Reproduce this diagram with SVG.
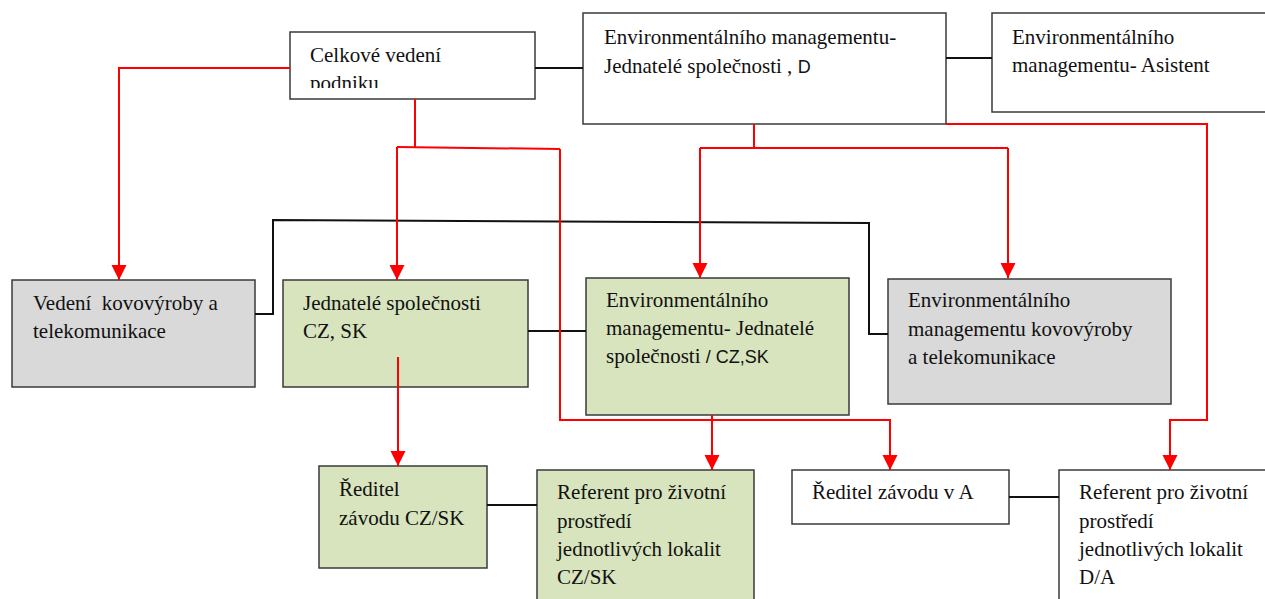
<svg xmlns="http://www.w3.org/2000/svg" width="1265" height="599" viewBox="0 0 1265 599">
<style>
.box{stroke:#3a3a3a;stroke-width:1.5}
.w{fill:#ffffff}
.g{fill:#d7e4bd}
.s{fill:#d9d9d9}
.t{font-family:"Liberation Serif","Times New Roman",serif;font-size:21px;fill:#111}
.sans{font-family:"Liberation Sans",Arial,sans-serif;font-size:18px}
.red{fill:none;stroke:#ff0000;stroke-width:2}
.blk{fill:none;stroke:#111;stroke-width:2}
</style>
<defs>
<marker id="ah" markerUnits="userSpaceOnUse" markerWidth="16" markerHeight="16" viewBox="0 0 16 16" refX="15" refY="8" orient="auto">
<path d="M0,0.5 L15,8 L0,15.5 z" fill="#ff0000"/>
</marker>
<clipPath id="clipA"><rect x="290" y="32" width="245" height="56"/></clipPath>
</defs>

<g id="celkove-vedeni">
<rect class="box w" x="290" y="32" width="245" height="67"/>
<text class="t" clip-path="url(#clipA)"><tspan x="310" y="62">Celkové vedení</tspan><tspan x="310" y="90">podniku</tspan></text>
</g>

<g id="env-jednatele-d">
<rect class="box w" x="583" y="13" width="363" height="111"/>
<text class="t"><tspan x="604" y="44">Environmentálního managementu-</tspan><tspan x="604" y="73">Jednatelé společnosti , <tspan class="sans">D</tspan></tspan></text>
</g>

<g id="env-asistent">
<rect class="box w" x="992" y="13" width="280" height="99"/>
<text class="t"><tspan x="1012" y="44">Environmentálního</tspan><tspan x="1012" y="72">managementu- Asistent</tspan></text>
</g>

<g id="vedeni-kovovyroby">
<rect class="box s" x="12" y="280" width="243" height="107"/>
<text class="t" style="white-space:pre"><tspan x="33" y="310">Vedení  kovovýroby a</tspan><tspan x="33" y="338">telekomunikace</tspan></text>
</g>

<g id="jednatele-cz-sk">
<rect class="box g" x="283" y="280" width="245" height="107"/>
<text class="t"><tspan x="303" y="310">Jednatelé společnosti</tspan><tspan x="303" y="338">CZ, SK</tspan></text>
</g>

<g id="env-jednatele-cz-sk">
<rect class="box g" x="586" y="278" width="263" height="137"/>
<text class="t"><tspan x="606" y="307">Environmentálního</tspan><tspan x="606" y="335">managementu- Jednatelé</tspan><tspan x="606" y="363">společnosti <tspan class="sans">/ CZ,SK</tspan></tspan></text>
</g>

<g id="env-kovovyroby">
<rect class="box s" x="888" y="279" width="283" height="125"/>
<text class="t"><tspan x="908" y="307">Environmentálního</tspan><tspan x="908" y="336">managementu kovovýroby</tspan><tspan x="908" y="364">a telekomunikace</tspan></text>
</g>

<g id="reditel-cz-sk">
<rect class="box g" x="319" y="466" width="168" height="102"/>
<text class="t"><tspan x="339" y="496">Ředitel</tspan><tspan x="339" y="525">závodu CZ/SK</tspan></text>
</g>

<g id="referent-cz-sk">
<rect class="box g" x="537" y="470" width="217" height="140"/>
<text class="t"><tspan x="557" y="499">Referent pro životní</tspan><tspan x="557" y="528">prostředí</tspan><tspan x="557" y="556">jednotlivých lokalit</tspan><tspan x="557" y="584">CZ/SK</tspan></text>
</g>

<g id="reditel-a">
<rect class="box w" x="792" y="470" width="217" height="54"/>
<text class="t"><tspan x="812" y="499">Ředitel závodu v A</tspan></text>
</g>

<g id="referent-d-a">
<rect class="box w" x="1059" y="470" width="215" height="140"/>
<text class="t"><tspan x="1079" y="499">Referent pro životní</tspan><tspan x="1079" y="528">prostředí</tspan><tspan x="1079" y="556">jednotlivých lokalit</tspan><tspan x="1079" y="584">D/A</tspan></text>
</g>

<g id="connectors">
<path class="blk" d="M535,68 H583"/>
<path class="blk" d="M946,58 H992"/>
<path class="blk" d="M255,314 H273 V220 L869,223 V334 H888"/>
<path class="blk" d="M528,331 H586"/>
<path class="blk" d="M487,505 H537"/>
<path class="blk" d="M1009,497 H1059"/>
<path class="red" d="M290,68 H119 V280" marker-end="url(#ah)"/>
<path class="red" d="M415,99 V147"/>
<path class="red" d="M397,147 L560,149"/>
<path class="red" d="M397,147 V280" marker-end="url(#ah)"/>
<path class="red" d="M560,149 V420 H890 V470" marker-end="url(#ah)"/>
<path class="red" d="M754,124 V148"/>
<path class="red" d="M700,148 H1008"/>
<path class="red" d="M700,148 V278" marker-end="url(#ah)"/>
<path class="red" d="M1008,148 V278" marker-end="url(#ah)"/>
<path class="red" d="M946,124 H1207 V420 H1170 V470" marker-end="url(#ah)"/>
<path class="red" d="M712,415 V470" marker-end="url(#ah)"/>
<path class="red" d="M398,357 V466" marker-end="url(#ah)"/>
</g>
</svg>
